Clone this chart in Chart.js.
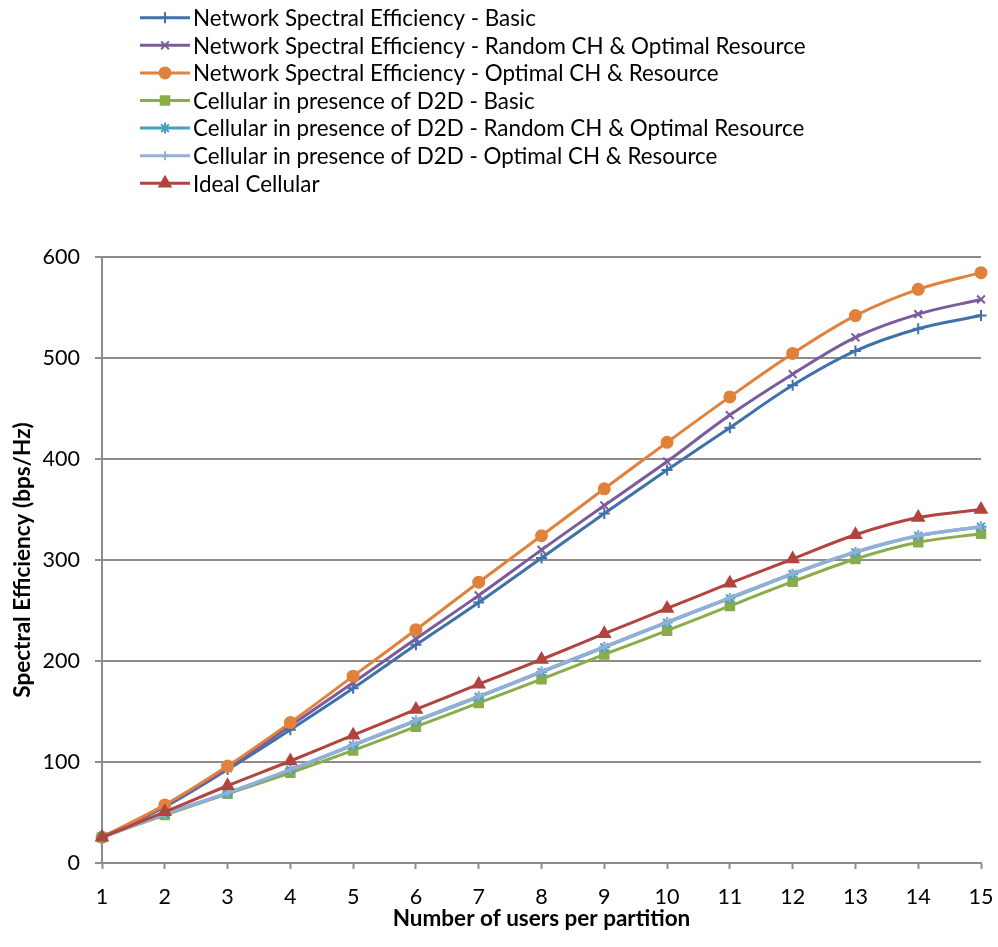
<!DOCTYPE html>
<html>
<head>
<meta charset="utf-8">
<title>Spectral Efficiency vs Number of users per partition</title>
<script src="https://cdn.jsdelivr.net/npm/chart.js@4/dist/chart.umd.min.js"></script>
<style>
  html, body { margin: 0; padding: 0; background: #ffffff; }
  #chart { display: block; }
</style>
</head>
<body>
<canvas id="chart" width="998" height="947"></canvas>
<script>
// Number of users per partition
const users = [1, 2, 3, 4, 5, 6, 7, 8, 9, 10, 11, 12, 13, 14, 15];

// Spectral efficiency (bps/Hz) for each scheme
const netBasic      = [25.5, 55.5, 92.5, 132, 173, 216, 258, 302, 346, 389, 431, 473, 507, 529, 542];
const netRandom     = [25.5, 56.5, 94, 136, 178.5, 222, 265, 310, 354, 397.5, 443.5, 484, 520.5, 543.5, 558];
const netOptimal    = [25.5, 57.5, 96, 139, 185, 231, 278, 324, 370.5, 416.5, 461.5, 504.5, 542, 568, 584.5];
const cellBasic     = [25.5, 47.5, 68.5, 89.3, 111.5, 135, 158.5, 182, 206.5, 230, 254.5, 278.5, 301, 317.5, 326];
const cellRandom    = [25.5, 48.5, 69, 92, 116.5, 140.5, 164.5, 189, 213.5, 238, 262, 286, 307.5, 324, 333];
const cellOptimal   = [25.5, 48.5, 69.5, 92.5, 117, 141, 165, 189.5, 214, 238.5, 262.5, 286.5, 308, 324, 333];
const idealCellular = [25.5, 50.7, 76.5, 101, 126.5, 152, 177, 201.5, 227, 252, 277, 301, 325, 342, 350];

const seriesNames = [
  'Network Spectral Efficiency - Basic',
  'Network Spectral Efficiency - Random CH & Optimal Resource',
  'Network Spectral Efficiency - Optimal CH & Resource',
  'Cellular in presence of D2D - Basic',
  'Cellular in presence of D2D - Random CH & Optimal Resource',
  'Cellular in presence of D2D - Optimal CH & Resource',
  'Ideal Cellular'
];
const seriesValues = [netBasic, netRandom, netOptimal, cellBasic, cellRandom, cellOptimal, idealCellular];

// Y axis ticks
const yTicks = [0, 100, 200, 300, 400, 500, 600];

const FONT = 'Lato, "Liberation Sans", sans-serif';
const GRID = '#8c8c8c';

const styles = [
  { color: '#3f71ab', point: 'cross',    radius: 5.5, lw: 3 },
  { color: '#7a5c9c', point: 'crossRot', radius: 5.5, lw: 3 },
  { color: '#e0823c', point: 'circle',   radius: 5.5, lw: 3 },
  { color: '#8aac4a', point: 'rect',     radius: 6,   lw: 3 },
  { color: '#45a1bd', point: 'star',     radius: 5.5, lw: 3 },
  { color: '#92afd6', point: 'line',     radius: 4.5, lw: 3.5, rot: 90 },
  { color: '#b1443f', point: 'triangle', radius: 6.5, lw: 3 }
];

const datasets = seriesNames.map((name, i) => ({
  label: name,
  data: users.map((u, k) => ({ x: u, y: seriesValues[i][k] })),
  borderColor: styles[i].color,
  backgroundColor: styles[i].color,
  borderWidth: styles[i].lw,
  pointStyle: styles[i].point,
  pointRadius: styles[i].radius,
  pointRotation: styles[i].rot || 0,
  pointBorderWidth: 2,
  pointBorderColor: styles[i].color,
  pointBackgroundColor: styles[i].color,
  tension: 0.35,
  clip: false,
  order: seriesNames.length - i
}));

// Vertical legend list drawn in the top-left corner
const stackedLegend = {
  id: 'stackedLegend',
  afterDraw(chart) {
    const ctx = chart.ctx;
    const x0 = 140, x1 = 190, textX = 193, firstY = 17.7, step = 27.6;
    ctx.save();
    chart.data.datasets.forEach((ds, i) => {
      const y = firstY + i * step;
      ctx.strokeStyle = ds.borderColor;
      ctx.lineWidth = 3;
      ctx.beginPath();
      ctx.moveTo(x0, y);
      ctx.lineTo(x1, y);
      ctx.stroke();
      if (Chart.helpers && Chart.helpers.drawPoint) {
        ctx.fillStyle = ds.pointBackgroundColor;
        ctx.strokeStyle = ds.pointBorderColor;
        ctx.lineWidth = ds.pointBorderWidth;
        Chart.helpers.drawPoint(ctx, {
          pointStyle: ds.pointStyle,
          radius: ds.pointRadius,
          rotation: ds.pointRotation,
          borderWidth: ds.pointBorderWidth
        }, (x0 + x1) / 2, y);
      }
      ctx.fillStyle = '#000000';
      ctx.font = '22.4px ' + FONT;
      ctx.textBaseline = 'middle';
      ctx.textAlign = 'left';
      ctx.fillText(ds.label, textX, y + 1);
    });
    ctx.restore();
  }
};

new Chart(document.getElementById('chart'), {
  type: 'line',
  data: { datasets },
  plugins: [stackedLegend],
  options: {
    responsive: false,
    animation: false,
    devicePixelRatio: 1,
    layout: { padding: { top: 257, right: 17, bottom: 0, left: 0 } },
    plugins: {
      legend: { display: false },
      tooltip: { enabled: false }
    },
    scales: {
      x: {
        type: 'linear',
        min: 1,
        max: 15,
        afterFit(scale) {
          scale.height = 84;
          scale.paddingLeft = 0;
          scale.paddingRight = 0;
        },
        ticks: {
          stepSize: 1,
          color: '#000000',
          font: { family: FONT, size: 21.5 },
          padding: 15
        },
        grid: {
          drawOnChartArea: false,
          drawTicks: true,
          tickLength: 6,
          tickColor: GRID,
          tickWidth: 2
        },
        border: { display: true, color: GRID, width: 2 },
        title: {
          display: true,
          text: 'Number of users per partition',
          color: '#000000',
          font: { family: FONT, size: 22.5, weight: 'bold' },
          padding: { top: 0, bottom: 15 }
        }
      },
      y: {
        min: 0,
        max: 600,
        afterFit(scale) { scale.width = 102; },
        afterBuildTicks(scale) { scale.ticks = yTicks.map(v => ({ value: v })); },
        ticks: {
          color: '#000000',
          font: { family: FONT, size: 21.5 },
          padding: 15
        },
        grid: {
          color: GRID,
          lineWidth: 2,
          drawTicks: true,
          tickLength: 7,
          tickColor: GRID,
          tickWidth: 2
        },
        border: { display: true, color: GRID, width: 2 },
        title: {
          display: true,
          text: 'Spectral Efficiency (bps/Hz)',
          color: '#000000',
          font: { family: FONT, size: 22.5, weight: 'bold' },
          padding: { top: 9, bottom: 0 }
        }
      }
    }
  }
});
</script>
</body>
</html>
